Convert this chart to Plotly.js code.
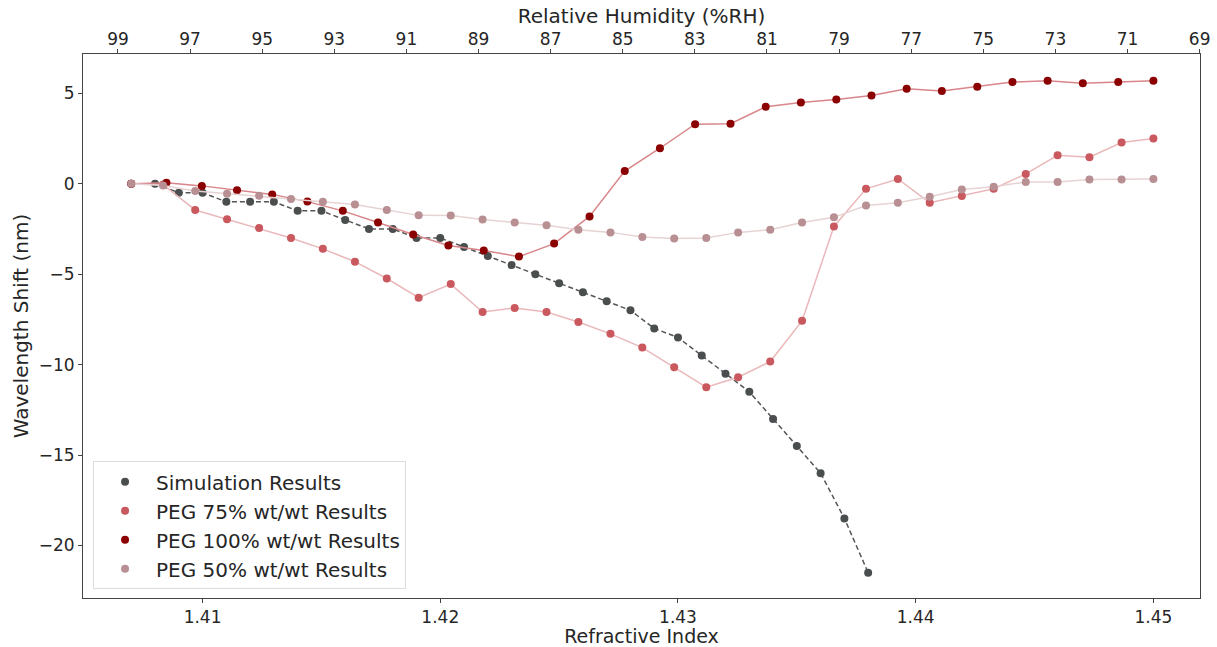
<!DOCTYPE html>
<html>
<head>
<meta charset="utf-8">
<script src="https://cdn.plot.ly/plotly-3.0.1.min.js"></script>
<style>html,body{margin:0;padding:0;background:#fff;}#chart{width:1217px;height:647px;}</style>
</head>
<body>
<div id="chart"></div>
<script>
// Simulation results (refractive index vs wavelength shift)
const simRI = [1.407, 1.408, 1.409, 1.410, 1.411, 1.412, 1.413, 1.414, 1.415, 1.416, 1.417, 1.418, 1.419, 1.420, 1.421, 1.422, 1.423, 1.424, 1.425, 1.426, 1.427, 1.428, 1.429, 1.430, 1.431, 1.432, 1.433, 1.434, 1.435, 1.436, 1.437, 1.438];
const simShift = [0, 0, -0.5, -0.5, -1, -1, -1, -1.5, -1.5, -2, -2.5, -2.5, -3, -3, -3.5, -4, -4.5, -5, -5.5, -6, -6.5, -7, -8, -8.5, -9.5, -10.5, -11.5, -13, -14.5, -16, -18.5, -21.5];

// PEG 75% and PEG 50% share the same refractive index grid
const pegRI33 = [1.40700, 1.40834, 1.40969, 1.41103, 1.41238, 1.41372, 1.41506, 1.41641, 1.41775, 1.41909, 1.42044, 1.42178, 1.42313, 1.42447, 1.42581, 1.42716, 1.42850, 1.42984, 1.43119, 1.43253, 1.43388, 1.43522, 1.43656, 1.43791, 1.43925, 1.44059, 1.44194, 1.44328, 1.44463, 1.44597, 1.44731, 1.44866, 1.45000];
const peg75Shift = [0, -0.05, -1.45, -1.96, -2.45, -3.0, -3.6, -4.31, -5.24, -6.3, -5.55, -7.09, -6.87, -7.09, -7.64, -8.3, -9.06, -10.15, -11.25, -10.7, -9.83, -7.58, -2.36, -0.28, 0.26, -1.05, -0.68, -0.28, 0.54, 1.57, 1.46, 2.28, 2.5];
const peg50Shift = [0, -0.1, -0.4, -0.55, -0.67, -0.85, -1.0, -1.15, -1.45, -1.75, -1.76, -1.98, -2.14, -2.3, -2.54, -2.69, -2.94, -3.03, -3.0, -2.69, -2.54, -2.14, -1.86, -1.21, -1.05, -0.72, -0.32, -0.17, 0.1, 0.1, 0.23, 0.23, 0.26];

// PEG 100%
const peg100RI = [1.40700, 1.40848, 1.40997, 1.41145, 1.41293, 1.41441, 1.41590, 1.41738, 1.41886, 1.42034, 1.42183, 1.42331, 1.42479, 1.42628, 1.42776, 1.42924, 1.43072, 1.43221, 1.43369, 1.43517, 1.43666, 1.43814, 1.43962, 1.44110, 1.44259, 1.44407, 1.44555, 1.44703, 1.44852, 1.45000];
const peg100Shift = [0, 0.05, -0.12, -0.36, -0.59, -0.99, -1.5, -2.14, -2.81, -3.42, -3.69, -4.03, -3.31, -1.81, 0.7, 1.96, 3.29, 3.32, 4.25, 4.49, 4.65, 4.87, 5.25, 5.13, 5.36, 5.62, 5.69, 5.56, 5.62, 5.69];

// Axis ticks
const riTicks = [1.41, 1.42, 1.43, 1.44, 1.45];
const rhTicks = [99, 97, 95, 93, 91, 89, 87, 85, 83, 81, 79, 77, 75, 73, 71, 69];
const shiftTicks = [-20, -15, -10, -5, 0, 5];

const names = ["Simulation Results", "PEG 75% wt/wt Results", "PEG 100% wt/wt Results", "PEG 50% wt/wt Results"];

const series = [
  {x: simRI, y: simShift, mc: "#4b4e4e", lc: "#555555", dash: "5px,3px", lw: 1.5, name: names[0]},
  {x: pegRI33, y: peg75Shift, mc: "#c9585f", lc: "#eab8ba", dash: "solid", lw: 1.5, name: names[1]},
  {x: peg100RI, y: peg100Shift, mc: "#8b0000", lc: "#d8868a", dash: "solid", lw: 1.5, name: names[2]},
  {x: pegRI33, y: peg50Shift, mc: "#b88f93", lc: "#e6d3d4", dash: "solid", lw: 1.5, name: names[3]}
];

const traces = [];
series.forEach((s, i) => {
  traces.push({x: s.x, y: s.y, type: "scatter", mode: "lines", line: {color: s.lc, width: s.lw, dash: s.dash}, showlegend: false, hoverinfo: "skip"});
  traces.push({x: s.x, y: s.y, type: "scatter", mode: "markers", marker: {color: s.mc, size: 8}, name: s.name, legendgroup: "g" + i});
});
traces.push({x: [], y: [], xaxis: "x2", type: "scatter", mode: "markers", showlegend: false});

const font = {family: "DejaVu Sans, sans-serif", color: "#262626"};

const layout = {
  width: 1217, height: 647,
  margin: {l: 83, r: 17, t: 54, b: 49},
  paper_bgcolor: "#fff", plot_bgcolor: "#fff",
  font: Object.assign({size: 17}, font),
  showlegend: true,
  legend: {x: 0.009, y: 0.016, xanchor: "left", yanchor: "bottom", bgcolor: "rgba(255,255,255,0.85)", bordercolor: "#dcdcdc", borderwidth: 1, font: Object.assign({size: 20}, font), traceorder: "grouped", tracegroupgap: 0, itemwidth: 52},
  xaxis: {
    range: [1.40497, 1.45196], tickvals: riTicks, ticktext: riTicks.map(v => v.toFixed(2)),
    showgrid: false, zeroline: false, showline: true, linecolor: "#444", linewidth: 1,
    ticks: "outside", ticklen: 4, tickcolor: "#444",
    title: {text: "Refractive Index", font: Object.assign({size: 19}, font), standoff: 7},
    tickfont: Object.assign({size: 17}, font)
  },
  xaxis2: {
    overlaying: "x", side: "top", anchor: "y", range: [99.97, 68.99], tickvals: rhTicks,
    showgrid: false, zeroline: false, showline: true, linecolor: "#444", linewidth: 1,
    ticks: "outside", ticklen: 4, tickcolor: "#444", ticklabelstandoff: -3,
    title: {text: "Relative Humidity (%RH)", font: Object.assign({size: 20}, font), standoff: 0},
    tickfont: Object.assign({size: 17}, font)
  },
  yaxis: {
    range: [-22.9, 7.17], tickvals: shiftTicks,
    showgrid: false, zeroline: false, showline: true, mirror: true, linecolor: "#444", linewidth: 1,
    ticks: "outside", ticklen: 4, tickcolor: "#444",
    title: {text: "Wavelength Shift (nm)", font: Object.assign({size: 20}, font), standoff: 4},
    tickfont: Object.assign({size: 17}, font)
  }
};

Plotly.newPlot("chart", traces, layout, {displayModeBar: false, staticPlot: true});
</script>
</body>
</html>
